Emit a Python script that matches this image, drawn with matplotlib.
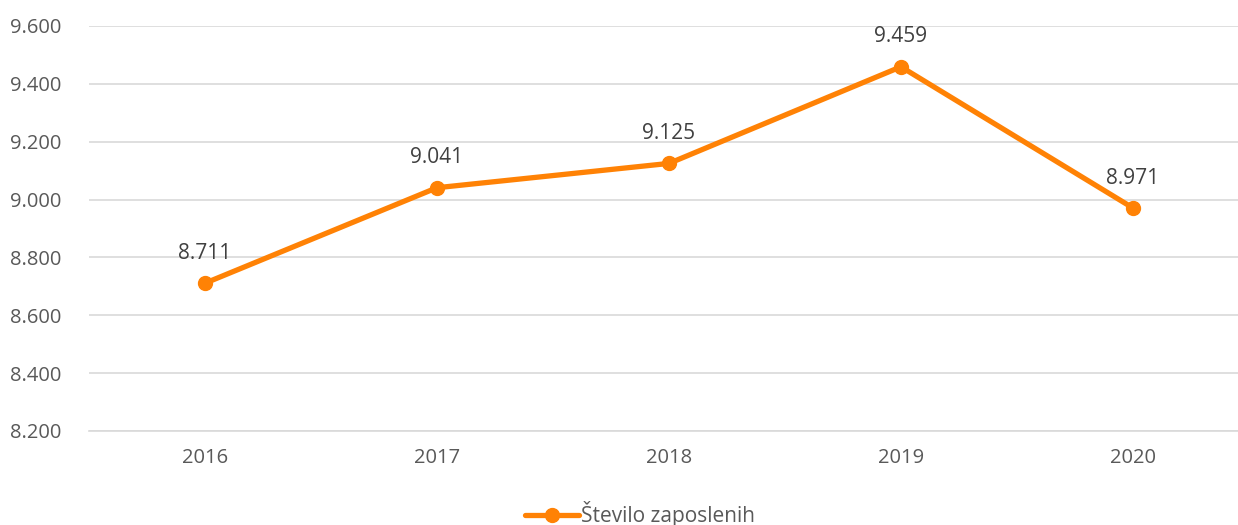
import matplotlib.pyplot as plt
from matplotlib.ticker import FuncFormatter

# data
years = ["2016", "2017", "2018", "2019", "2020"]
employees = [8711, 9041, 9125, 9459, 8971]
label = "Število zaposlenih"

orange = "#FF8205"
text_col = "#595959"

plt.rcParams["font.family"] = ["Open Sans", "DejaVu Sans"]

fig = plt.figure(figsize=(12.38, 5.25), dpi=100)
ax = fig.add_axes([89 / 1238, 1 - 431 / 525, 1 - 89 / 1238, (431 - 26) / 525])

x = list(range(len(years)))
ax.plot(x, employees, color=orange, linewidth=3.8, marker="o", markersize=10,
        label=label, solid_capstyle="round")

for xi, v in zip(x, employees):
    ax.annotate(f"{v:,}".replace(",", "."), (xi, v), xytext=(0, 14),
                textcoords="offset points", ha="center", va="bottom",
                fontsize=15, color="#404040")

ax.set_xlim(-0.5, 4.453)
ax.set_ylim(8200, 9600)
ax.set_yticks(range(8200, 9601, 200))
ax.yaxis.set_major_formatter(FuncFormatter(lambda v, p: f"{int(v):,}".replace(",", ".")))
ax.set_xticks(x)
ax.set_xticklabels(years)

ax.grid(axis="y", color="#D9D9D9", linewidth=1.2)
ax.set_axisbelow(True)
for s in ["top", "right", "left"]:
    ax.spines[s].set_visible(False)
ax.spines["bottom"].set_color("#D9D9D9")
ax.spines["bottom"].set_linewidth(1.2)
ax.tick_params(axis="both", length=0, labelsize=14.5, colors=text_col)
ax.tick_params(axis="y", pad=20)
ax.tick_params(axis="x", pad=12)

fig.legend(loc="center", bbox_to_anchor=(640 / 1238, 1 - 514 / 525), frameon=False,
           fontsize=15, labelcolor=text_col, handlelength=2.6, handletextpad=0.1)

fig.savefig("out.png", dpi=100)
